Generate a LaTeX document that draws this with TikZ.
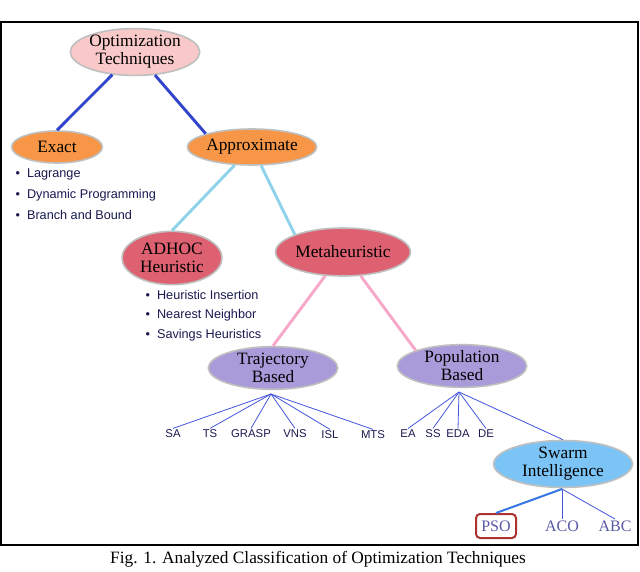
\documentclass[tikz,border=0pt]{standalone}
\usepackage{fontspec}
\setmainfont{Liberation Serif}
\newfontfamily\sansf{Liberation Sans}
\usetikzlibrary{shapes.geometric}
\definecolor{pinkf}{HTML}{F9C8C8}
\definecolor{orangef}{HTML}{F79646}
\definecolor{redf}{HTML}{DE6172}
\definecolor{purplef}{HTML}{A99BDA}
\definecolor{bluef}{HTML}{7CC4F6}
\definecolor{navy}{HTML}{1A1A50}
\definecolor{lnblue}{HTML}{3344CC}
\definecolor{lnlight}{HTML}{8FD3EA}
\definecolor{lnpink}{HTML}{F7A8C8}
\definecolor{leafc}{HTML}{4455DD}
\begin{document}
\begin{tikzpicture}[x=0.75pt,y=-0.75pt,
  el/.style={ellipse,draw=gray!50,line width=1.2pt,inner sep=0pt,align=center,font=\fontsize{13}{13.5}\selectfont},
  bl/.style={anchor=west,font=\sansf\fontsize{9.5}{10}\selectfont,text=navy,inner sep=1pt},
  lf/.style={font=\sansf\fontsize{8.5}{9}\selectfont,text=navy,inner sep=1pt},
  lf2/.style={font=\fontsize{12}{12}\selectfont,text=gray!70!blue,inner sep=1pt},
  c1/.style={draw=lnblue,line width=2.2pt},
  c2/.style={draw=lnlight,line width=2.2pt},
  c3/.style={draw=lnpink,line width=2.2pt},
  c4/.style={draw=leafc,line width=0.6pt}]
\useasboundingbox (0,0) rectangle (640,572);
\fill[white] (0,0) rectangle (640,572);
\draw[line width=0.8pt] (1,22) rectangle (638,545);
\node[el,fill=pinkf,minimum width=84pt,minimum height=32pt] (opt) at (135,52) {Optimization\\Techniques};
\node[el,fill=orangef,minimum width=68pt,minimum height=24pt] (ex) at (57,147) {Exact};
\node[el,fill=orangef,minimum width=87pt,minimum height=27pt] (ap) at (252,147) {Approximate};
\node[el,fill=redf,minimum width=75pt,minimum height=40pt] (ad) at (172,258) {ADHOC\\Heuristic};
\node[el,fill=redf,minimum width=85pt,minimum height=36pt] (me) at (343,252) {Metaheuristic};
\node[el,fill=purplef,minimum width=97pt,minimum height=32pt] (tr) at (273,368) {Trajectory\\Based};
\node[el,fill=purplef,minimum width=97pt,minimum height=32pt] (po) at (462,366) {Population\\Based};
\node[el,fill=bluef,minimum width=104pt,minimum height=34pt] (sw) at (563,464) {Swarm\\Intelligence};
\draw[c1] (opt) -- (ex.north);
\draw[c1] (opt) -- (ap.north west);
\draw[c2] (ap) -- (ad.north);
\draw[c2] (ap) -- (me.north west);
\draw[c3] (me) -- (tr.north);
\draw[c3] (me) -- (po.north west);
\node[bl] (b1) at (14,174) {\textbullet\ \ Lagrange};
\node[bl] (b2) at (14,195) {\textbullet\ \ Dynamic Programming};
\node[bl] (b3) at (14,215) {\textbullet\ \ Branch and Bound};
\node[bl] (h1) at (144,295) {\textbullet\ \ Heuristic Insertion};
\node[bl] (h2) at (144,315) {\textbullet\ \ Nearest Neighbor};
\node[bl] (h3) at (144,335) {\textbullet\ \ Savings Heuristics};
\coordinate (tb) at (271,394);
\node[lf] (sa) at (173,434) {SA};
\node[lf] (ts) at (210,434) {TS};
\node[lf] (gr) at (251,434) {GRASP};
\node[lf] (vn) at (295,434) {VNS};
\node[lf] (is) at (330,435) {ISL};
\node[lf] (mt) at (373,435) {MTS};
\foreach \n in {sa,ts,gr,vn,is,mt} \draw[c4] (tb) -- (\n.north);
\coordinate (pb) at (459,392);
\node[lf] (ea) at (408,434) {EA};
\node[lf] (ss) at (433,434) {SS};
\node[lf] (ed) at (458,434) {EDA};
\node[lf] (de) at (486,434) {DE};
\foreach \n in {ea,ss,ed,de} \draw[c4] (pb) -- (\n.north);
\draw[c4] (pb) -- (sw.north);
\coordinate (sb) at (562,489);
\node[lf2,draw=red!60!black!80,line width=1.5pt,rounded corners=3pt,minimum width=30pt,minimum height=18pt] (pso) at (496,526) {PSO};
\node[lf2] (aco) at (562,526) {ACO};
\node[lf2] (abc) at (615,526) {ABC};
\draw[draw=leafc!80!cyan,line width=1.5pt] (sb) -- (pso.north);
\draw[c4] (sb) -- (aco.north);
\draw[c4] (sb) -- (abc.north);
\node[font=\fontsize{13}{14}\selectfont] (cap) at (318,559) {Fig. 1. Analyzed Classification of Optimization Techniques};
\end{tikzpicture}
\end{document}
